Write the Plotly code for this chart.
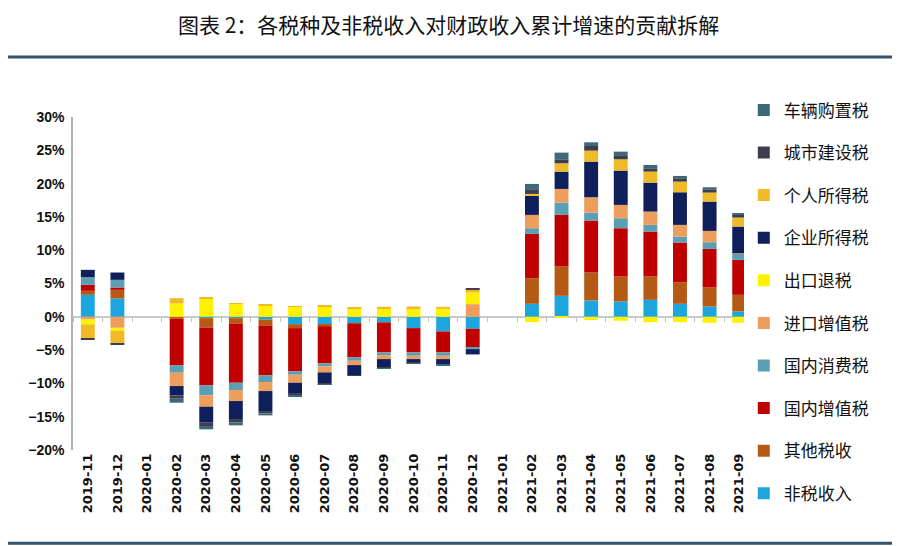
import plotly.graph_objects as go

# categories (months)
months = ['2019-11', '2019-12', '2020-01', '2020-02', '2020-03', '2020-04',
          '2020-05', '2020-06', '2020-07', '2020-08', '2020-09', '2020-10',
          '2020-11', '2020-12', '2021-01', '2021-02', '2021-03', '2021-04',
          '2021-05', '2021-06', '2021-07', '2021-08', '2021-09']

# contribution of each item, in percentage points
non_tax = [3.3, 2.75, None, 0.0, -0.2, -0.2, -0.4, -1.1, -1.2, -0.95, -0.85, -1.7,
           -2.2, -1.8, None, 1.95, 3.15, 2.45, 2.3, 2.55, 1.95, 1.55, 0.8]
other_tax = [0.6, 1.3, None, -0.3, -1.4, -0.8, -0.9, -0.6, -0.2, -0.1, -0.1, 0.0,
             0.0, 0.0, None, 3.85, 4.4, 4.2, 3.75, 3.5, 3.25, 2.85, 2.5]
domestic_vat = [0.9, 0.35, None, -7.0, -8.7, -8.9, -7.5, -6.5, -5.6, -5.05, -4.4, -3.65,
                -3.15, -2.85, None, 6.65, 7.75, 7.8, 7.25, 6.75, 5.95, 5.8, 5.25]
consumption_tax = [1.15, 1.15, None, -1.1, -1.5, -1.1, -1.0, -0.5, -0.45, -0.5, -0.4, -0.5,
                   -0.5, -0.2, None, 0.85, 1.85, 1.2, 1.5, 1.0, 0.9, 1.0, 0.9]
import_vat = [-0.4, -1.65, None, -2.0, -1.7, -1.65, -1.35, -1.2, -0.9, -0.65, -0.6, -0.5,
              -0.5, 1.9, None, 2.0, 2.05, 2.3, 2.0, 2.0, 1.75, 1.7, 0.1]
export_rebate = [-0.75, -0.45, None, 2.0, 2.75, 1.95, 1.75, 1.55, 1.55, 1.3, 1.3, 1.15,
                 1.2, 1.75, None, -0.8, -0.1, -0.5, -0.6, -0.8, -0.8, -0.9, -0.9]
corp_income = [1.1, 1.1, None, -1.4, -2.4, -2.7, -3.0, -1.65, -1.6, -1.5, -1.25, -0.5,
               -0.8, -0.8, None, 2.85, 2.6, 5.35, 5.15, 4.35, 4.9, 4.4, 4.0]
personal_income = [-2.1, -1.9, None, 0.8, 0.2, 0.1, 0.05, 0.05, 0.1, 0.1, 0.2, 0.4,
                   0.3, 0.45, None, 0.3, 1.25, 1.65, 1.7, 1.65, 1.6, 1.35, 1.35]
urban_tax = [-0.15, -0.15, None, -0.5, -0.5, -0.5, -0.35, -0.25, -0.15, -0.05, -0.1, -0.1,
             -0.05, 0.15, None, 0.6, 0.6, 0.7, 0.5, 0.5, 0.5, 0.5, 0.5]
vehicle_tax = [0.0, 0.0, None, -0.6, -0.5, -0.45, -0.3, -0.25, -0.1, 0.0, -0.05, -0.05,
               -0.05, 0.0, None, 0.9, 1.0, 0.55, 0.65, 0.5, 0.35, 0.3, 0.05]

series = [
    ('非税收入', non_tax, '#1DA6DE'),
    ('其他税收', other_tax, '#B45A14'),
    ('国内增值税', domestic_vat, '#C00000'),
    ('国内消费税', consumption_tax, '#5A9FB4'),
    ('进口增值税', import_vat, '#EE9E5C'),
    ('出口退税', export_rebate, '#FFF100'),
    ('企业所得税', corp_income, '#0E1F5B'),
    ('个人所得税', personal_income, '#EFB928'),
    ('城市建设税', urban_tax, '#3E3E4E'),
    ('车辆购置税', vehicle_tax, '#3C6878'),
]

# the page has an 8px body margin, so the figure is a bit smaller than the window
fig = go.Figure(
    layout=dict(
        width=892, height=538,
        margin=dict(l=65, r=146, t=109, b=96, autoexpand=False),
        paper_bgcolor='#fff',
        plot_bgcolor='#fff',
        barmode='relative',
        bargap=0.53,
        showlegend=True,
        font=dict(family='Liberation Sans, Noto Sans CJK SC', color='#111'),
        xaxis=dict(
            type='category',
            tickangle=-90,
            tickfont=dict(size=13, weight='bold', family='DejaVu Sans'),
            showgrid=False,
            showline=False,
            ticks='',
        ),
        # small tick marks sitting on the zero line
        xaxis2=dict(
            type='category',
            overlaying='x',
            matches='x',
            anchor='free',
            position=0.4,
            side='bottom',
            tickson='boundaries',
            ticks='outside',
            ticklen=4,
            tickcolor='#c0c0c0',
            showticklabels=False,
            showgrid=False,
            showline=False,
        ),
        yaxis=dict(
            range=[-20, 30],
            dtick=5,
            ticksuffix='%',
            tickfont=dict(size=14, weight='bold'),
            ticklabelstandoff=4,
            showgrid=False,
            showline=True,
            linecolor='#b0b0b0',
            linewidth=1.5,
            zeroline=True,
            zerolinecolor='#c8c8c8',
            zerolinewidth=1.5,
        ),
        legend=dict(
            x=0.985, y=1.074,
            xanchor='left', yanchor='top',
            traceorder='grouped',
            tracegroupgap=17.5,
            maxheight=520,
            font=dict(size=17, family='Noto Sans CJK SC', color='#111'),
            itemwidth=30,
        ),
    )
)

# add the stacked bars
for i, (name, vals, color) in enumerate(series):
    fig.add_trace(
        go.Bar(
            x=months,
            y=vals,
            name=name,
            legendgroup=name,
            legendrank=len(series) - i,
            marker=dict(color=color, line=dict(width=0)),
        )
    )

# empty trace so the zero-line tick axis is drawn
fig.add_trace(go.Scatter(x=months, y=[None] * len(months), xaxis='x2',
                         showlegend=False, hoverinfo='skip'))

# title and the rules above/below the chart
fig.add_annotation(
    text='图表 2：各税种及非税收入对财政收入累计增速的贡献拆解',
    xref='paper', yref='paper', x=0.551, y=1.279,
    xanchor='center', yanchor='middle', showarrow=False,
    font=dict(size=21, family='Noto Sans CJK SC', color='#111'),
)
fig.add_shape(type='line', xref='paper', yref='paper',
              x0=-0.11, x1=1.22, y0=1.18, y1=1.18,
              line=dict(color='#35536A', width=3))
fig.add_shape(type='line', xref='paper', yref='paper',
              x0=-0.11, x1=1.22, y0=-0.28, y1=-0.28,
              line=dict(color='#35536A', width=3))

fig.write_html('out.html')
